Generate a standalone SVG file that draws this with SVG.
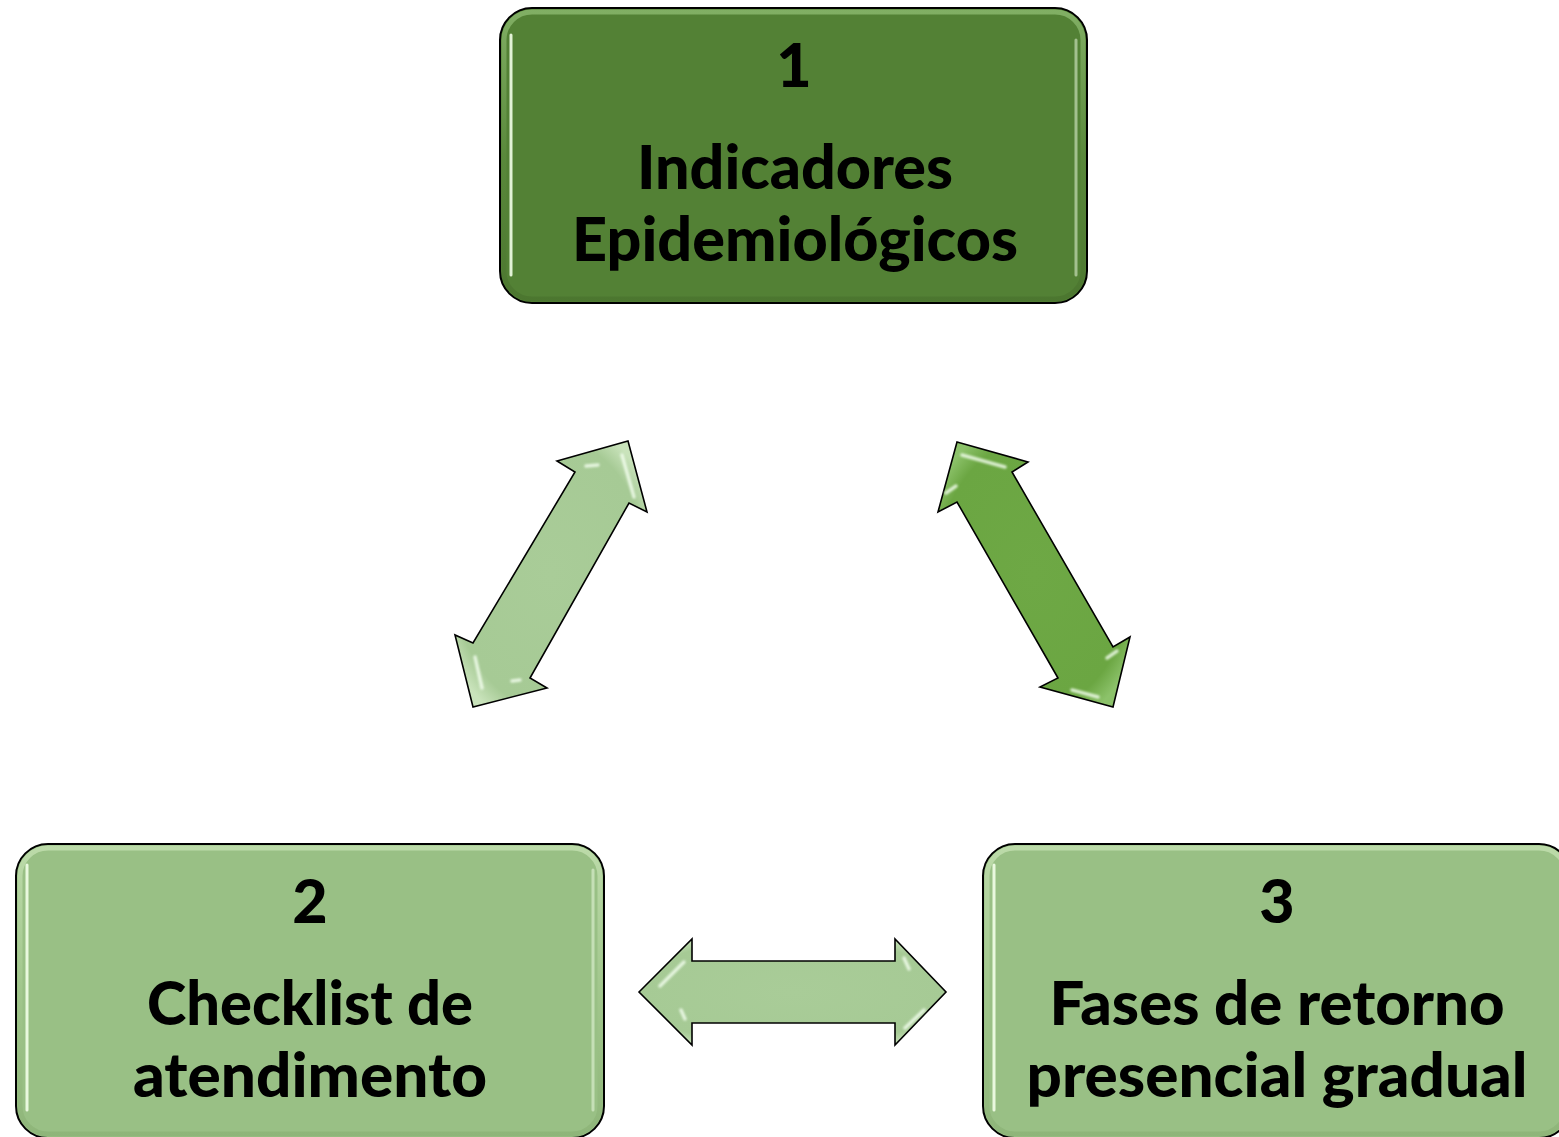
<svg xmlns="http://www.w3.org/2000/svg" width="1559" height="1137" viewBox="0 0 1559 1137">
<defs>
<style>
.box{stroke:#000;stroke-width:2}
.bevel{fill:none;stroke-width:5;stroke-opacity:0.55}
.hl{stroke:#f2ffe8;stroke-width:3;stroke-linecap:round;opacity:0.9}
.ahl{stroke:#f4fff0;stroke-width:3.5;stroke-linecap:round;opacity:0.8;filter:url(#soft)}
.t{font-family:Lato,"Open Sans","Liberation Sans",sans-serif;font-weight:900;font-size:61px;fill:#000;text-anchor:middle}
.arr{stroke:#000;stroke-width:1.6;stroke-linejoin:miter}
</style>
<filter id="soft" x="-50%" y="-50%" width="200%" height="200%"><feGaussianBlur stdDeviation="0.8"/></filter>
<linearGradient id="bevD" x1="0" y1="0" x2="0" y2="1">
<stop offset="0" stop-color="#a6d48a"/><stop offset="0.5" stop-color="#5f8f40"/><stop offset="1" stop-color="#466e2b"/>
</linearGradient>
<linearGradient id="bevL" x1="0" y1="0" x2="0" y2="1">
<stop offset="0" stop-color="#d8f0c6"/><stop offset="0.5" stop-color="#a8cc92"/><stop offset="1" stop-color="#86ad70"/>
</linearGradient>
<radialGradient id="arrL" cx="0.5" cy="0.5" r="0.6">
<stop offset="0" stop-color="#a9cc98"/><stop offset="0.85" stop-color="#a6ca95"/><stop offset="1" stop-color="#c9e3bb"/>
</radialGradient>
<radialGradient id="arrD" cx="0.5" cy="0.5" r="0.6">
<stop offset="0" stop-color="#6ea845"/><stop offset="0.85" stop-color="#6ba642"/><stop offset="1" stop-color="#8cc26a"/>
</radialGradient>
</defs>

<g id="connectors">
<polygon id="arrow-1-2" class="arr" fill="url(#arrL)" points="628,441 647,512 629,503 530,678 547,688 473,707 455,635 473,643 575,472 557,461"/>
<polygon id="arrow-1-3" class="arr" fill="url(#arrD)" points="957,442 1028,462 1012,472 1113,647 1130,637 1113,707 1040,687 1058,678 957,502 938,512"/>
<polygon id="arrow-2-3" class="arr" fill="url(#arrL)" points="639,992 692,939 692,961 895,961 895,939 946,992 895,1045 895,1023 692,1023 692,1045"/>
<g class="ahl">
<line x1="622" y1="455" x2="634" y2="497"/>
<line x1="586" y1="466" x2="598" y2="465"/>
<line x1="475" y1="657" x2="482" y2="688"/>
<line x1="512" y1="681" x2="520" y2="680"/>
<line x1="962" y1="455" x2="1005" y2="467"/>
<line x1="946" y1="493" x2="956" y2="486"/>
<line x1="1107" y1="658" x2="1117" y2="651"/>
<line x1="1072" y1="690" x2="1098" y2="697"/>
<line x1="660" y1="986" x2="684" y2="962"/>
<line x1="681" y1="1010" x2="685" y2="1019"/>
<line x1="904" y1="958" x2="909" y2="969"/>
<line x1="905" y1="1028" x2="924" y2="1010"/>
</g>
</g>

<g id="node-1">
<rect class="box" x="500" y="8" width="587" height="295" rx="32" fill="#538135"/>
<rect class="bevel" x="504" y="12" width="579" height="287" rx="28" stroke="url(#bevD)"/>
<line class="hl" x1="511" y1="35" x2="511" y2="275"/>
<line class="hl" x1="1076" y1="40" x2="1076" y2="275" style="opacity:0.5"/>
<text class="t" x="794" y="87">1</text>
<text class="t" x="795" y="189" textLength="316" lengthAdjust="spacingAndGlyphs">Indicadores</text>
<text class="t" x="795" y="261" textLength="446" lengthAdjust="spacingAndGlyphs">Epidemiológicos</text>
</g>

<g id="node-2">
<rect class="box" x="16" y="844" width="588" height="294" rx="32" fill="#99c085"/>
<rect class="bevel" x="20" y="848" width="580" height="286" rx="28" stroke="url(#bevL)"/>
<line class="hl" x1="27" y1="865" x2="27" y2="1110"/>
<line class="hl" x1="593" y1="870" x2="593" y2="1110" style="opacity:0.5"/>
<text class="t" x="310" y="923">2</text>
<text class="t" x="310" y="1025" textLength="326" lengthAdjust="spacingAndGlyphs">Checklist de</text>
<text class="t" x="310" y="1097" textLength="354" lengthAdjust="spacingAndGlyphs">atendimento</text>
</g>

<g id="node-3">
<rect class="box" x="983" y="844" width="588" height="294" rx="32" fill="#99c085"/>
<rect class="bevel" x="987" y="848" width="580" height="286" rx="28" stroke="url(#bevL)"/>
<line class="hl" x1="994" y1="865" x2="994" y2="1110"/>
<text class="t" x="1277" y="923">3</text>
<text class="t" x="1277" y="1025" textLength="455" lengthAdjust="spacingAndGlyphs">Fases de retorno</text>
<text class="t" x="1277" y="1097" textLength="501" lengthAdjust="spacingAndGlyphs">presencial gradual</text>
</g>
</svg>
